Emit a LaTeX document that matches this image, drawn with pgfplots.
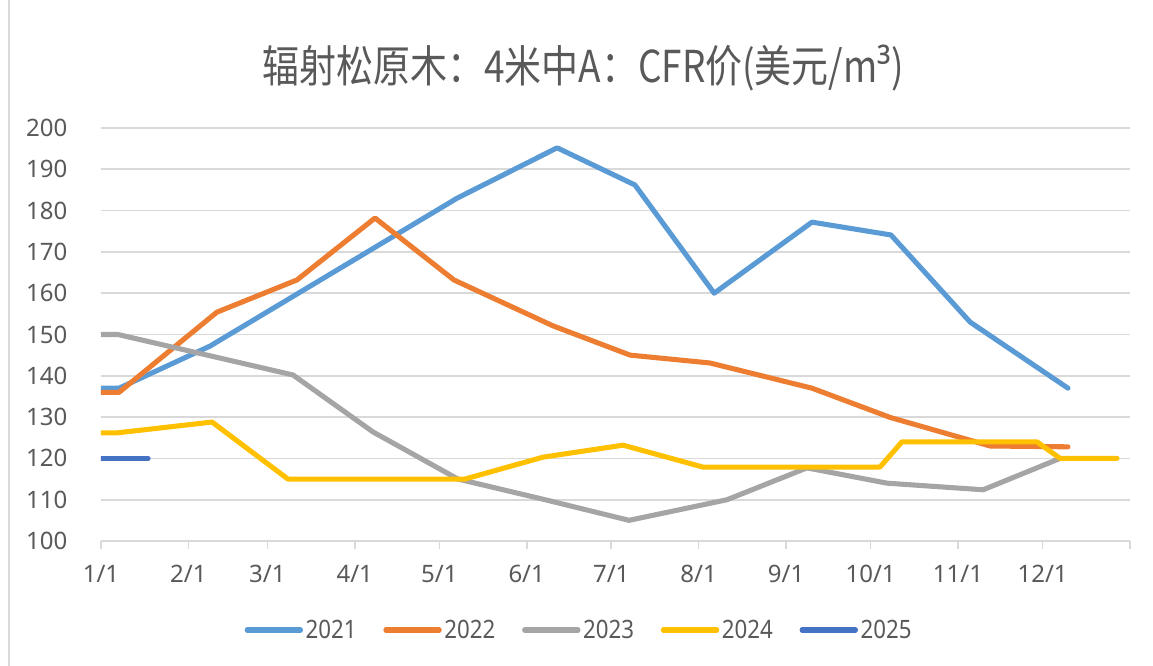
\documentclass[border=0pt]{standalone}
\usepackage{fontspec}
\setmainfont{Noto Sans}
\newfontfamily\cjk[FakeStretch=0.84]{Noto Sans CJK SC}
\newfontfamily\legfont[FakeStretch=0.88]{Noto Sans}
\newfontfamily\supfont{DejaVu Sans}
\usepackage{pgfplots}
\pgfplotsset{compat=1.18}
\definecolor{c21}{HTML}{5B9BD5}
\definecolor{c22}{HTML}{ED7D31}
\definecolor{c23}{HTML}{A5A5A5}
\definecolor{c24}{HTML}{FFC000}
\definecolor{c25}{HTML}{4472C4}
\definecolor{txt}{HTML}{595959}
\definecolor{grd}{HTML}{D9D9D9}
\begin{document}
\begin{tikzpicture}
\useasboundingbox (0,0) rectangle (864.75pt,499.5pt);
\draw[grd, line width=1.2pt] (6.75pt,0) -- (6.75pt,499.5pt);
\node[txt, font=\cjk\fontsize{33pt}{36pt}\selectfont, anchor=center] at (437.25pt,448.5pt) {辐射松原木：4米中A：CFR价(美元/m{\legfont ³})};
\begin{axis}[
  at={(75.75pt,93.75pt)}, anchor=south west,
  width=771.75pt, height=309.75pt, scale only axis,
  xmin=0, xmax=365, ymin=100, ymax=200,
  axis x line*=bottom, axis y line*=left,
  y axis line style={draw=none},
  x axis line style={grd, line width=1.2pt},
  tick align=outside, major tick length=6pt,
  xtick={0,31,59,90,120,151,181,212,243,273,304,334,365},
  xticklabels={1/1,2/1,3/1,4/1,5/1,6/1,7/1,8/1,9/1,10/1,11/1,12/1,{}},
  xtick style={grd, line width=1.2pt},
  ytick={100,110,...,200},
  ytick style={draw=none},
  ymajorgrids, grid style={grd, line width=1.3pt},
  /pgf/number format/assume math mode=true,
  ticklabel style={font=\fontsize{18pt}{20pt}\selectfont, text=txt},
  yticklabel style={inner sep=0pt, xshift=-19pt},
  xticklabel style={inner sep=0pt, yshift=-12pt},
  legend columns=5,
  legend style={at={(0.465,-0.2155)}, anchor=center, draw=none, fill=none,
    font=\legfont\fontsize{19pt}{21pt}\selectfont, text=txt,
    /tikz/every even column/.append style={column sep=18pt}},
  legend image code/.code={\draw[#1, line cap=round] (0pt,0pt) -- (40pt,0pt);},
  every axis plot/.append style={line width=3.8pt, line join=round, line cap=round},
]
\addplot[c21] coordinates {(0,137) (6.4,137) (38.7,147.2) (126.3,183) (161.8,195.2) (189.4,186.2) (217.5,160) (252.2,177.2) (280.2,174.1) (308.3,153) (343,137)};
\addlegendentry{2021}
\addplot[c22] coordinates {(0,136) (6.4,136) (41.1,155.4) (69.5,163.2) (97.2,178.2) (125.2,163.2) (160.3,152.1) (187.7,145) (216,143.1) (252.2,137) (280,129.9) (315.4,123) (343,122.8)};
\addlegendentry{2022}
\addplot[c23] coordinates {(0,150) (6,150) (68.1,140.2) (96.5,126.4) (126.6,115) (157.5,110) (187.3,105) (222.1,110) (250.4,117.7) (278.8,114) (312.9,112.4) (340.2,120)};
\addlegendentry{2023}
\addplot[c24] coordinates {(0,126.2) (6,126.2) (39.4,128.8) (66.3,115) (129.1,115) (156.8,120.3) (185.2,123.2) (213.5,117.9) (276.3,117.9) (284.1,124) (332,124) (340.2,120) (360.4,120)};
\addlegendentry{2024}
\addplot[c25] coordinates {(0,120) (16.7,120)};
\addlegendentry{2025}
\end{axis}
\end{tikzpicture}
\end{document}
